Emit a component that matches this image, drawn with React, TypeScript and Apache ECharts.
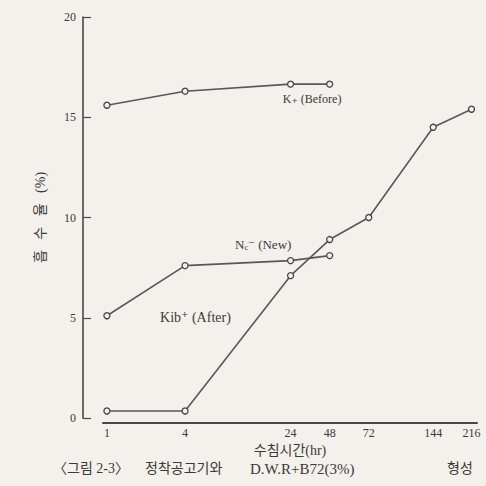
import React, { useEffect, useRef } from "react";
import * as echarts from "echarts";

// Soaking time (hr) categories and their positions along the (non-uniform) printed time axis
const hourLabels = ["1", "4", "24", "48", "72", "144", "216"];
const hourAxisPos = [0, 2, 4.7, 5.7, 6.7, 8.35, 9.33];

// Absorption rate (%) values
const beforeValues = [15.6, 16.3, 16.65, 16.65]; // K+ (Before): 1,4,24,48 hr
const newValues = [5.1, 7.6, 7.85, 8.1]; // Nc- (New): 1,4,24,48 hr
const afterValues = [0.35, 0.35, 7.1, 8.9, 10.0, 14.5, 15.4]; // Kib+ (After): all hours

const yName = "흡   수   율   (%)";
const xName = "수침시간(hr)";
const captionParts = ["〈그림 2-3〉", "정착공고기와", "D.W.R+B72(3%)", "형성"];

const FONT = "'Liberation Serif', 'DejaVu Serif', 'Noto Sans CJK KR', serif";
const INK = "#3c3a38";
const LINE = "#5a5856";
const BG = "#f4f0ec";

function pairs(vals: number[]) {
  return vals.map((v, i) => [hourAxisPos[i], v]);
}

function labelPoint(x: number, y: number, text: string, size: number) {
  return {
    coord: [x, y],
    symbol: "circle",
    symbolSize: 0,
    label: {
      show: true,
      position: "right",
      distance: 0,
      formatter: text,
      color: INK,
      fontFamily: FONT,
      fontSize: size,
      rich: {
        s: { fontSize: 8, color: INK, fontFamily: FONT, padding: [6, 0, 0, 0] },
      },
    },
  };
}

export default function App() {
  const ref = useRef<HTMLDivElement>(null);
  useEffect(() => {
    document.body.style.margin = "0";
    const chart = echarts.init(ref.current!, null, { renderer: "svg" });
    const series: any[] = [
      { name: "before", data: pairs(beforeValues) },
      { name: "new", data: pairs(newValues) },
      { name: "after", data: pairs(afterValues) },
    ].map((s) => ({
      type: "line",
      name: s.name,
      data: s.data,
      symbol: "circle",
      symbolSize: 6,
      showAllSymbol: true,
      lineStyle: { color: LINE, width: 1.6 },
      itemStyle: { color: BG, borderColor: "#444", borderWidth: 1.3 },
      emphasis: { disabled: true },
    }));
    series[0].markPoint = {
      silent: true,
      data: [labelPoint(4.5, 15.9, "K₊ (Before)", 12)],
    };
    series[1].markPoint = {
      silent: true,
      data: [labelPoint(3.28, 8.63, "N{s|c}⁻ (New)", 13)],
    };
    series[2].markPoint = {
      silent: true,
      data: [labelPoint(1.36, 4.99, "Kib⁺ (After)", 14)],
    };

    const captionLefts = [48, 140, 245, 442];
    chart.setOption({
      animation: false,
      backgroundColor: BG,
      title: captionParts.map((t, i) => ({
        text: t,
        left: captionLefts[i],
        top: 456,
        textStyle: { fontSize: i === 2 ? 15 : 14, fontWeight: "normal", color: INK, fontFamily: FONT },
      })),
      grid: { left: 103, right: 9, top: 17, bottom: 68 },
      xAxis: {
        type: "value",
        min: -0.1,
        max: 9.47,
        offset: 5,
        name: xName,
        nameLocation: "middle",
        nameGap: 19,
        nameTextStyle: { fontSize: 14, color: INK, fontFamily: FONT },
        axisLine: { show: true, onZero: false, lineStyle: { color: "#4a4846", width: 2 } },
        axisTick: { show: false },
        splitLine: { show: false },
        axisLabel: {
          customValues: hourAxisPos,
          formatter: (v: number) => {
            let best = 0;
            hourAxisPos.forEach((p, i) => {
              if (Math.abs(p - v) < Math.abs(hourAxisPos[best] - v)) best = i;
            });
            return hourLabels[best];
          },
          margin: 4,
          color: INK,
          fontSize: 12,
          fontFamily: FONT,
        },
      },
      yAxis: {
        type: "value",
        min: 0,
        max: 20,
        interval: 5,
        offset: 20,
        name: yName,
        nameLocation: "middle",
        nameRotate: 90,
        nameGap: 36,
        nameTextStyle: { fontSize: 14, color: INK, fontFamily: FONT },
        axisLine: { show: true, onZero: false, lineStyle: { color: "#4a4846", width: 1.6 } },
        axisTick: { show: true, inside: true, length: 8, lineStyle: { color: "#4a4846", width: 1.2 } },
        splitLine: { show: false },
        axisLabel: { margin: 7, color: INK, fontSize: 12, fontFamily: FONT },
      },
      series,
    });
    return () => chart.dispose();
  }, []);
  return <div ref={ref} style={{ width: 486, height: 486 }} />;
}
